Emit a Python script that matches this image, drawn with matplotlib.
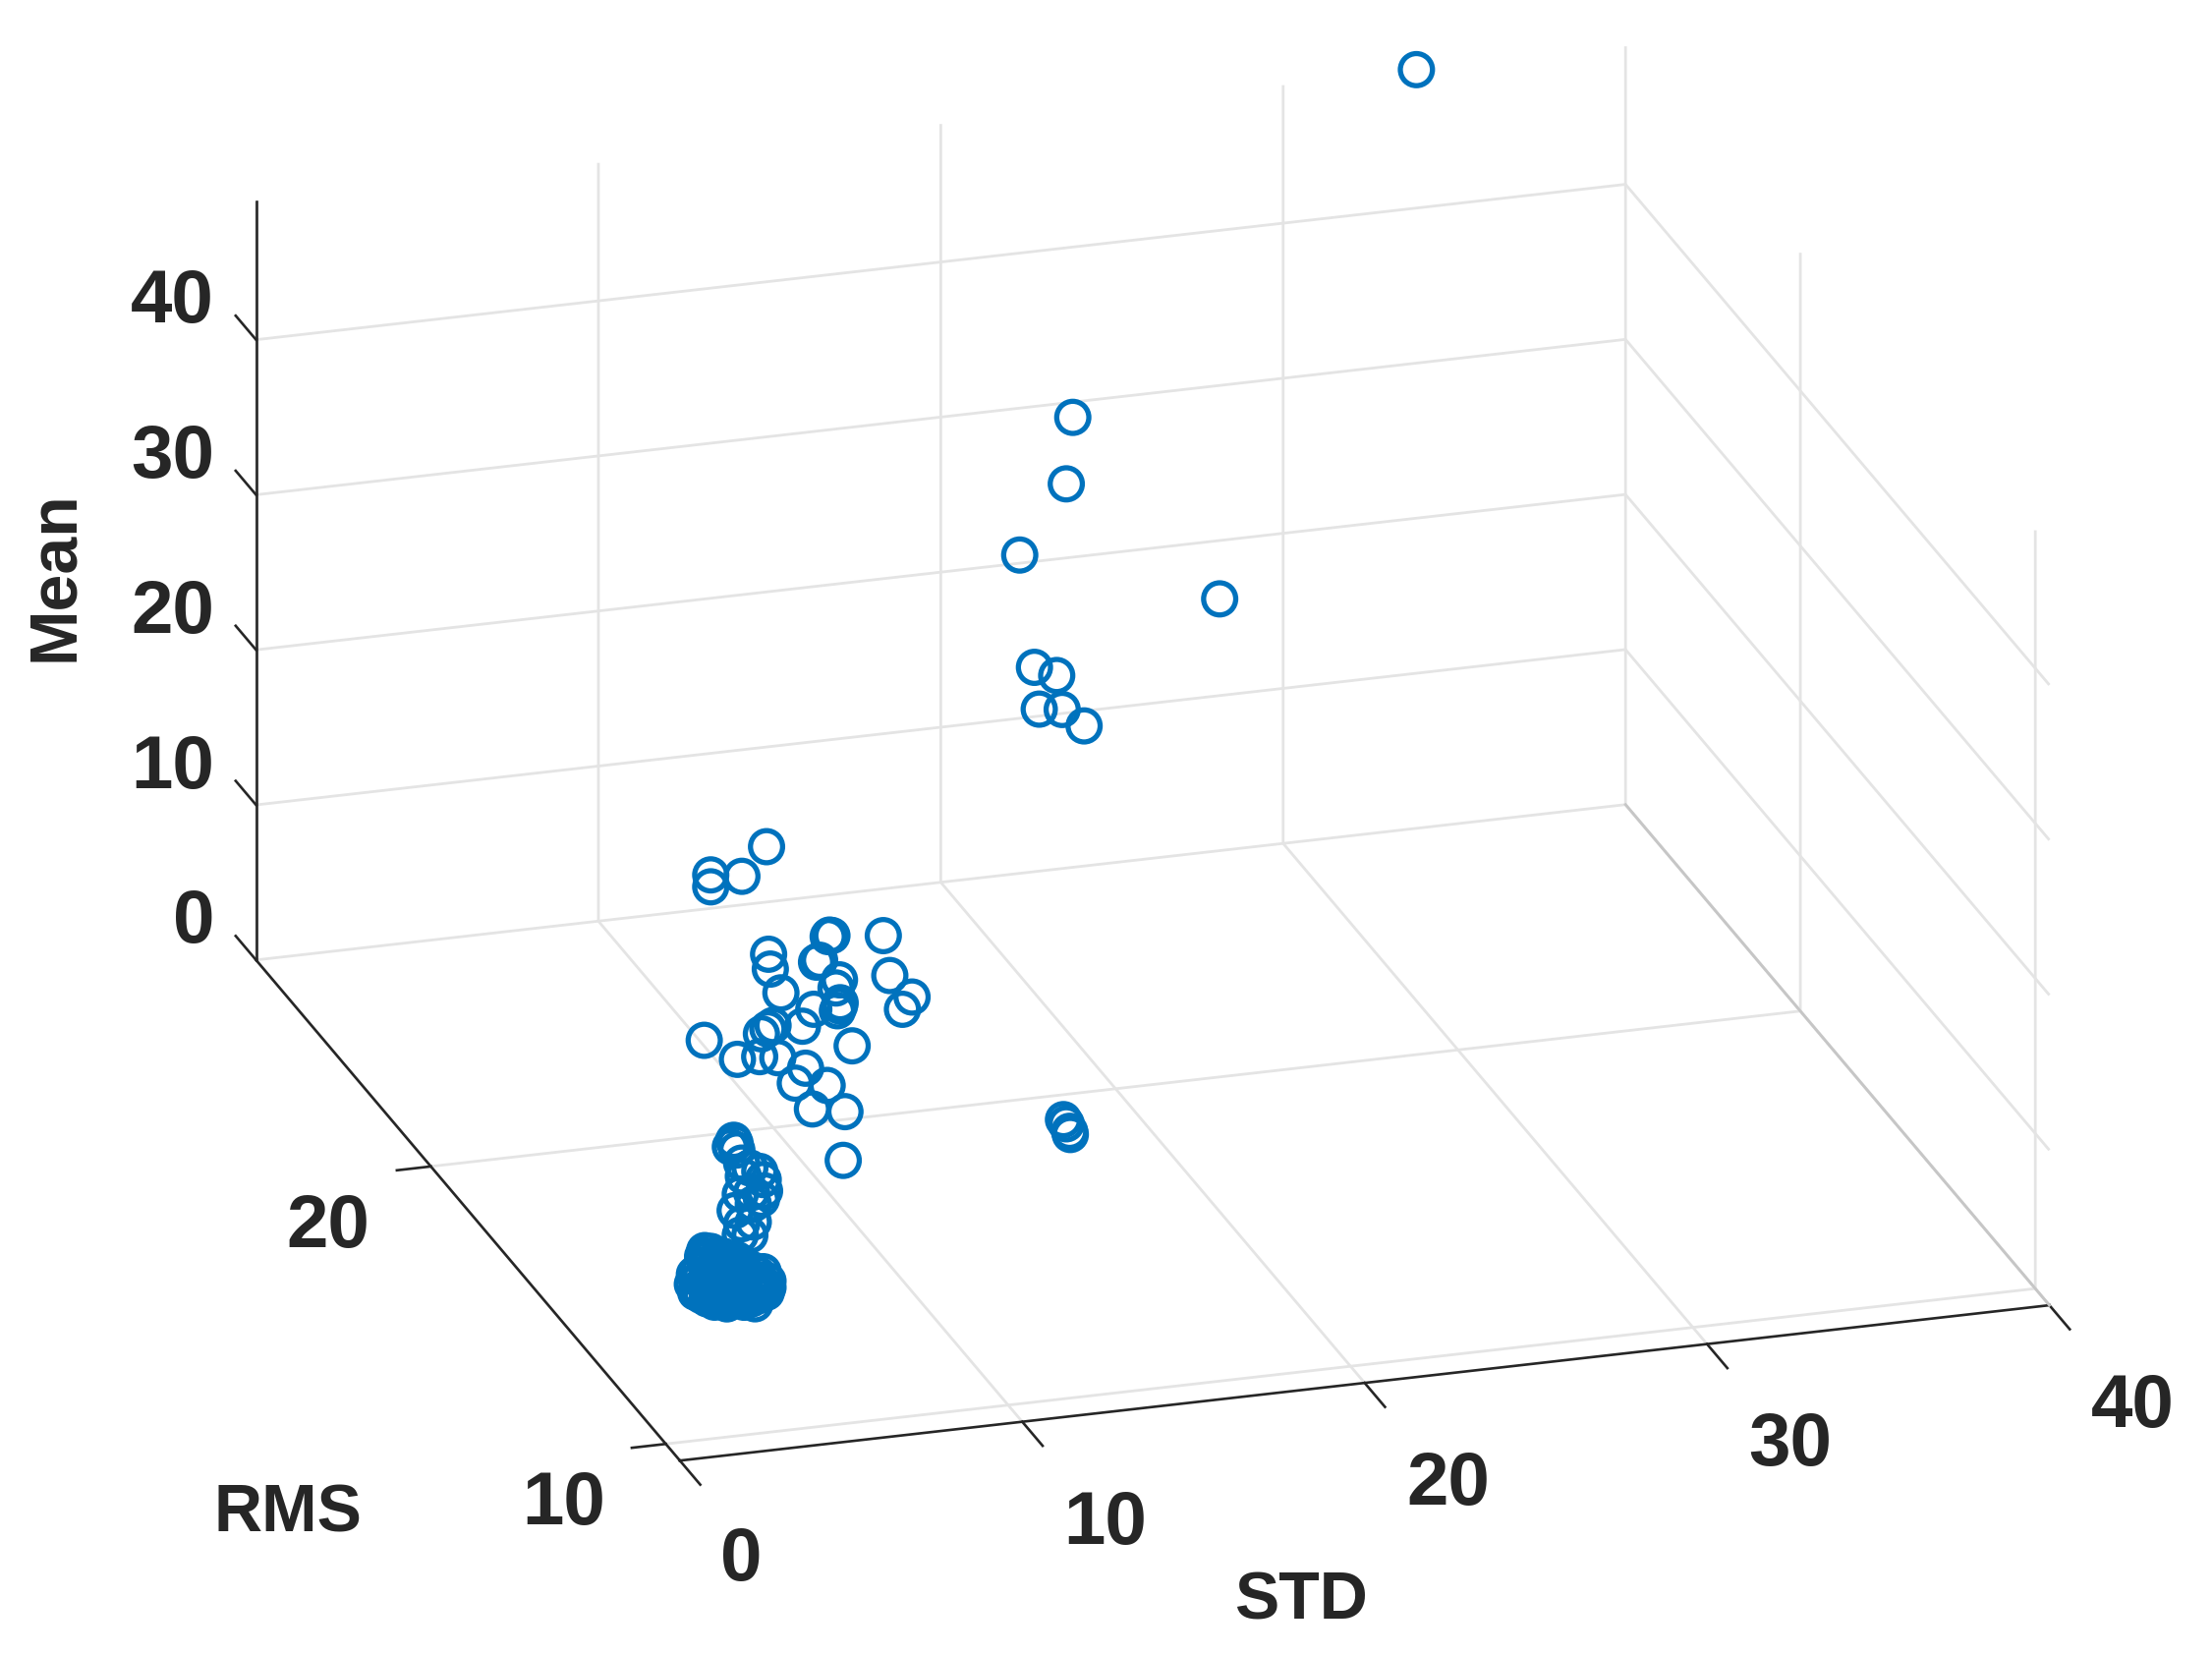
import matplotlib
matplotlib.use("Agg")
import matplotlib.pyplot as plt
from mpl_toolkits.mplot3d import proj3d

plt.rcParams['font.family'] = ['Liberation Sans', 'DejaVu Sans']

# values, the depth (RMS) of each group is only a guess
std_top = [33.59]
rms_top = [27.0]
mean_top = [49.79]

std_upper = [18.75, 18.56, 17.20, 23.04, 17.63, 18.28, 17.77, 18.44, 19.08]
rms_upper = [20.0, 20.0, 20.0, 20.0, 20.0, 20.0, 20.0, 20.0, 20.0]
mean_upper = [43.61, 39.37, 35.12, 30.83, 27.77, 27.08, 25.04, 24.85, 23.63]

std_mid = [7.06, 6.34, 5.43, 5.43, 10.47, 8.90, 8.97, 8.86, 7.12, 7.17, 8.52, 8.61,
           10.66, 9.19, 9.09, 7.48, 11.31, 11.03, 9.21, 9.19, 9.13, 8.44, 8.11, 7.25, 7.10,
           6.91, 5.24, 9.56, 6.21, 6.86, 7.39, 8.20, 7.90, 8.83, 8.40, 9.35, 9.30]
rms_mid = [16.0] * len(std_mid)
mean_mid = [26.01, 24.28, 24.60, 23.83, 19.42, 19.85, 19.80, 19.76, 19.06, 18.09, 18.20, 18.30,
            16.80, 16.89, 16.39, 16.48, 15.25, 14.53, 15.41, 15.21, 14.91, 15.18, 14.17, 14.43, 14.25,
            13.98, 13.98, 12.54, 12.51, 12.52, 12.32, 11.44, 10.55, 10.17, 8.76, 8.35, 5.22]

std_pair = [14.36, 14.44, 14.56, 14.54]
rms_pair = [14.0, 14.0, 14.0, 14.0]
mean_pair = [10.16, 9.87, 9.15, 9.36]

std_stalk = [4.73, 4.77, 4.63, 4.82, 4.96, 5.20, 5.49, 5.01, 5.59, 5.63, 4.92, 5.25, 5.54,
             5.30, 4.77, 5.30, 4.96, 5.20, 4.92]
rms_stalk = [14.0] * len(std_stalk)
mean_stalk = [11.24, 11.03, 10.84, 10.59, 9.71, 9.34, 9.04, 8.85, 8.49, 7.75, 7.72, 7.74, 7.24,
              6.99, 6.70, 5.83, 5.80, 5.01, 5.08]

# the solid blob at the bottom, many overlapping circles
std_blob = [3.88, 4.06, 4.29, 3.88, 4.20, 4.53, 4.82, 3.91, 4.25, 4.58, 4.92,
            3.58, 3.96, 4.34, 4.73, 5.11, 5.44,
            3.52, 3.86, 4.20, 4.53, 4.87, 5.20, 5.54,
            3.62, 3.96, 4.29, 4.63, 4.96, 5.30, 5.68,
            3.96, 4.39, 4.82, 5.25, 4.53, 5.35, 5.59, 5.73, 5.73,
            3.82, 4.06, 4.30, 4.44,
            3.72, 4.10, 4.49, 4.87, 5.25,
            3.72, 4.06, 4.39, 4.73, 5.06, 5.40,
            3.69, 4.04, 4.36, 4.71, 5.03, 5.40, 5.59,
            3.79, 4.13, 4.46, 4.80, 5.13, 5.47,
            4.17, 4.61, 5.03]
rms_blob = [14.0] * len(std_blob)
mean_blob = [4.34, 4.24, 3.97, 3.75, 3.46, 3.27, 3.52, 3.43, 3.34, 3.26, 3.18,
             2.88, 2.78, 2.69, 2.59, 2.50, 2.41,
             2.26, 2.18, 2.09, 2.01, 1.92, 1.84, 1.76,
             1.71, 1.62, 1.54, 1.46, 1.37, 1.29, 1.19,
             1.20, 1.09, 0.99, 0.88, 0.74, 0.54, 2.55, 1.92, 1.50,
             3.98, 3.92, 3.86, 3.83,
             3.16, 3.07, 2.97, 2.87, 2.78,
             2.53, 2.44, 2.36, 2.27, 2.19, 2.11,
             1.97, 1.88, 1.80, 1.71, 1.63, 1.54, 1.49,
             1.46, 1.37, 1.29, 1.20, 1.12, 1.04,
             0.94, 0.83, 0.72]

std_ticks = [0, 10, 20, 30, 40]
rms_ticks = [10, 20]
mean_ticks = [0, 10, 20, 30, 40]

STD_LIM = (0, 40)
RMS_LIM = (9.4, 27.44)
MEAN_LIM = (0, 48.9)

W, H = 2251, 1684
BLUE = '#0072BD'
DARK = '#262626'
GRID = '#e4e4e4'

fig = plt.figure(figsize=(W / 100, H / 100), dpi=100)
ax = fig.add_subplot(projection='3d', proj_type='ortho')

# oversized square axes, so that nothing gets clipped by the axes patch
side = 2600
ax.set_position([(1173 - 0.5135 * side) / W, (917.3 - 0.5135 * side) / H, side / W, side / H])
ax.set_box_aspect((1458, 1456, 828.5), zoom=0.8298)
ax.view_init(elev=21.47, azim=-107.22)

ax.set_xlim(*STD_LIM, view_margin=0)
ax.set_ylim(*RMS_LIM, view_margin=0)
ax.set_zlim(*MEAN_LIM, view_margin=0)
ax.set_xticks(std_ticks)
ax.set_yticks(rms_ticks)
ax.set_zticks(mean_ticks)
ax.xaxis.set_tick_params(labelbottom=False)
ax.yaxis.set_tick_params(labelleft=False)
ax.zaxis.set_tick_params(labelleft=False)

for axis in (ax.xaxis, ax.yaxis, ax.zaxis):
    axis.pane.set_visible(False)
    axis.line.set_color(DARK)
    axis.line.set_linewidth(1.9)
    axis._axinfo['grid'].update(color=GRID, linewidth=2.0, linestyle='-')
    axis._axinfo['tick'].update(inward_factor=0.0, linewidth={True: 1.9, False: 1.9})
# negative, mplot3d counts these two towards the panes
ax.xaxis._axinfo['tick']['outward_factor'] = -0.6
ax.yaxis._axinfo['tick']['outward_factor'] = -0.31
ax.zaxis._axinfo['tick']['outward_factor'] = 0.6
ax.tick_params(axis='both', color=DARK)
ax.tick_params(axis='z', color=DARK)
ax.zaxis.set_ticks_position('upper')
# z ticks should run along the RMS direction, there is no public setting for it
ax.zaxis._get_tickdir = lambda position: 1

# right floor edge is darker in the original
ax.plot([STD_LIM[1], STD_LIM[1]], RMS_LIM, [MEAN_LIM[0], MEAN_LIM[0]], color='#c6c6c6', lw=2.0)

std_all = std_top + std_upper + std_mid + std_pair + std_stalk + std_blob
rms_all = rms_top + rms_upper + rms_mid + rms_pair + rms_stalk + rms_blob
mean_all = mean_top + mean_upper + mean_mid + mean_pair + mean_stalk + mean_blob
ax.scatter(std_all, rms_all, mean_all, s=554, marker='o', facecolors='none',
           edgecolors=BLUE, linewidths=3.8, depthshade=False)


def tick_text(x, y, z, label, ha='center'):
    # mplot3d can't shift tick labels along one axis only, so place them by hand
    px, py, _ = proj3d.proj_transform(x, y, z, ax.get_proj())
    ax.text2D(px, py, label, transform=ax.transData, ha=ha, va='center',
              fontsize=55, fontweight='bold', color=DARK)


for val in std_ticks:
    if val == 0:
        tick_text(-0.65, RMS_LIM[0] - 3.54, 0, str(val))
    else:
        tick_text(val, RMS_LIM[0] - 3.54, -0.28, str(val))
for val in rms_ticks:
    tick_text(-4.02, val - 1.5, -0.28, str(val))
for val in mean_ticks:
    tick_text(-0.15, RMS_LIM[1] + 1.56, val - 0.42, str(val), ha='right')

label_font = dict(fontsize=49, fontweight='bold', color=DARK, ha='center', va='center')
fig.text(922 * 1.4356 / W, 1 - 1135 * 1.4356 / H, 'STD', **label_font)
fig.text(204 * 1.4356 / W, 1 - 1073 * 1.4356 / H, 'RMS', **label_font)
fig.text(39 * 1.4356 / W, 1 - 408 * 1.4356 / H, 'Mean', rotation=90, **label_font)

fig.savefig('out.png', dpi=100)
